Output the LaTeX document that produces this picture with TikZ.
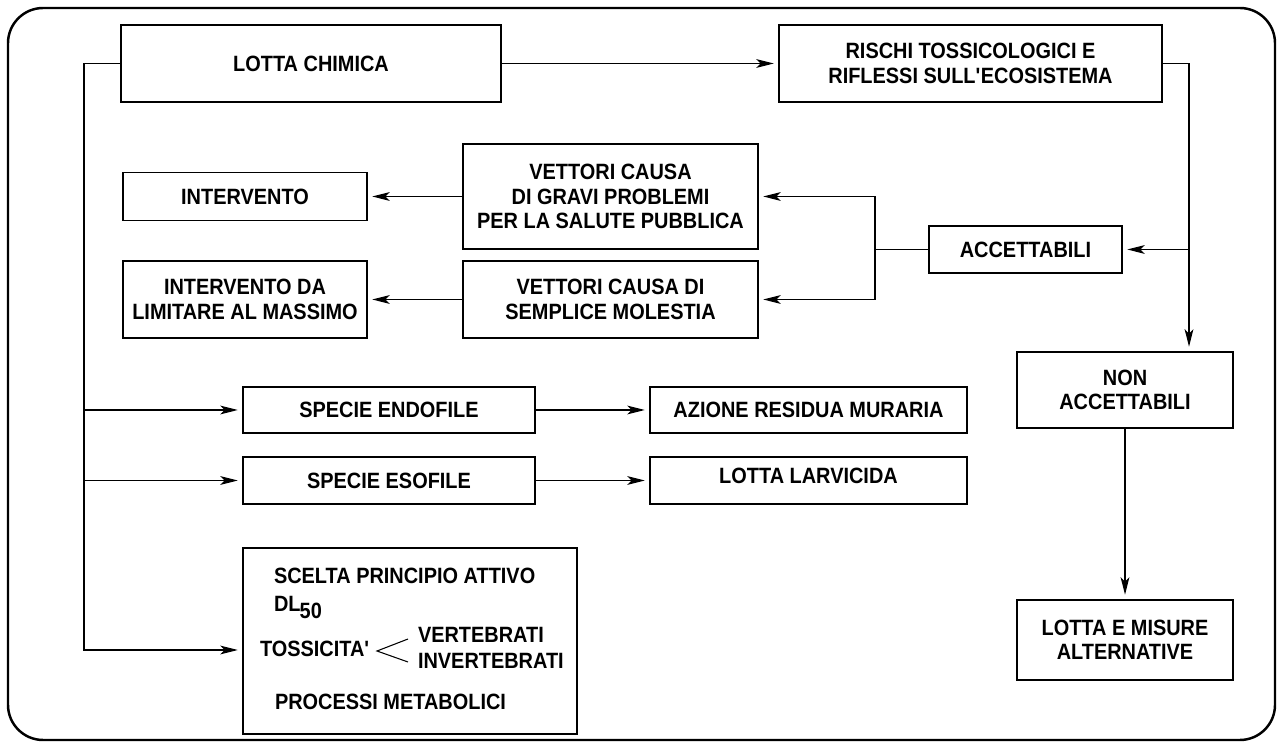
\documentclass[tikz,border=0pt]{standalone}
\usepackage{fontspec}
\setmainfont{Liberation Sans}[FakeStretch=0.9]
\usetikzlibrary{arrows.meta, calc}

\begin{document}
\begin{tikzpicture}[
    x=0.02cm, y=-0.02cm,
    every node/.style={inner sep=0pt, outer sep=0pt, font=\fontsize{12.6}{13.8}\selectfont\bfseries},
    box/.style={rectangle, draw, line width=0.8pt, align=center},
    txt/.style={anchor=base west},
    arrow/.style={-{Stealth[length=10pt, width=5pt, inset=2.5pt]}, line width=0.75pt, shorten >=3pt},
    line/.style={line width=0.75pt}
]
\useasboundingbox (0,0) rectangle (1278,742);
\draw[line width=1.4pt, rounded corners=20] (8,8) rectangle (1275,740);

% top row
\node[box, minimum width=7.6cm, minimum height=1.54cm] (lotta) at (311,63.5) {LOTTA CHIMICA};
\node[box, minimum width=7.66cm, minimum height=1.54cm] (rischi) at (970.5,63.5) {RISCHI TOSSICOLOGICI E\\RIFLESSI SULL\textquotesingle ECOSISTEMA};

% vectors
\node[box, minimum width=4.88cm, minimum height=0.96cm] (interv) at (245,196.5) {INTERVENTO};
\node[box, minimum width=4.88cm, minimum height=1.54cm] (intlim) at (245,299.5) {INTERVENTO DA\\LIMITARE AL MASSIMO};
\node[box, minimum width=5.9cm, minimum height=2.1cm] (vett1) at (610.5,196.5) {VETTORI CAUSA\\DI GRAVI PROBLEMI\\PER LA SALUTE PUBBLICA};
\node[box, minimum width=5.9cm, minimum height=1.54cm] (vett2) at (610.5,299.5) {VETTORI CAUSA DI\\SEMPLICE MOLESTIA};
\node[box, minimum width=3.86cm, minimum height=0.94cm] (accett) at (1025.5,249.5) {ACCETTABILI};

% right column
\node[box, minimum width=4.32cm, minimum height=1.52cm] (nonacc) at (1125,390) {NON\\ACCETTABILI};
\node[box, minimum width=4.32cm, minimum height=1.6cm] (misure) at (1125,640) {LOTTA E MISURE\\ALTERNATIVE};

% species
\node[box, minimum width=5.84cm, minimum height=0.92cm] (endo) at (389,410) {SPECIE ENDOFILE};
\node[box, minimum width=5.84cm, minimum height=0.94cm] (eso) at (389,480.5) {SPECIE ESOFILE};
\node[box, minimum width=6.34cm, minimum height=0.92cm] (azione) at (808.5,410) {AZIONE RESIDUA MURARIA};
\node[box, minimum width=6.34cm, minimum height=0.94cm] (larv) at (808.5,480.5) {\raisebox{5pt}{LOTTA LARVICIDA}};

% active principle
\node[box, minimum width=6.68cm, minimum height=3.72cm] (scelta) at (410,641) {};
\node[txt] (princ) at (274,584) {SCELTA PRINCIPIO ATTIVO};
\node[txt] (dl) at (274,612) {DL\kern-0.5pt\raisebox{-0.55ex}{50}};
\node[txt] (toss) at (260,657) {TOSSICITA\textquotesingle};
\node[txt] (vert) at (418,643) {VERTEBRATI};
\node[txt] (invert) at (418,669) {INVERTEBRATI};
\node[txt] (metab) at (275,709) {PROCESSI METABOLICI};
\draw[line width=0.6pt] (408,639) -- (377,651) -- (408,662);

\coordinate (lbus) at (84,650);
\coordinate (rbus) at (1189,249.5);
\coordinate (abus) at (875,249.5);

\draw[arrow] (lotta) -- (rischi);
\draw[arrow] (lotta.west) -| (lbus) -- (lbus -| scelta.west);
\draw[arrow] (lbus |- endo) -- (endo);
\draw[arrow] (lbus |- eso) -- (eso);
\draw[arrow] (endo) -- (azione);
\draw[arrow] (eso) -- (larv);
\draw[arrow] (rischi.east) -| (rbus |- nonacc.north);
\draw[arrow] (rbus) -- (accett);
\draw[line] (accett) -- (abus);
\draw[arrow] (abus) |- (vett1.east);
\draw[arrow] (abus) |- (vett2.east);
\draw[arrow] (vett1) -- (interv);
\draw[arrow] (vett2) -- (intlim);
\draw[arrow] (nonacc) -- (misure);

\end{tikzpicture}
\end{document}
